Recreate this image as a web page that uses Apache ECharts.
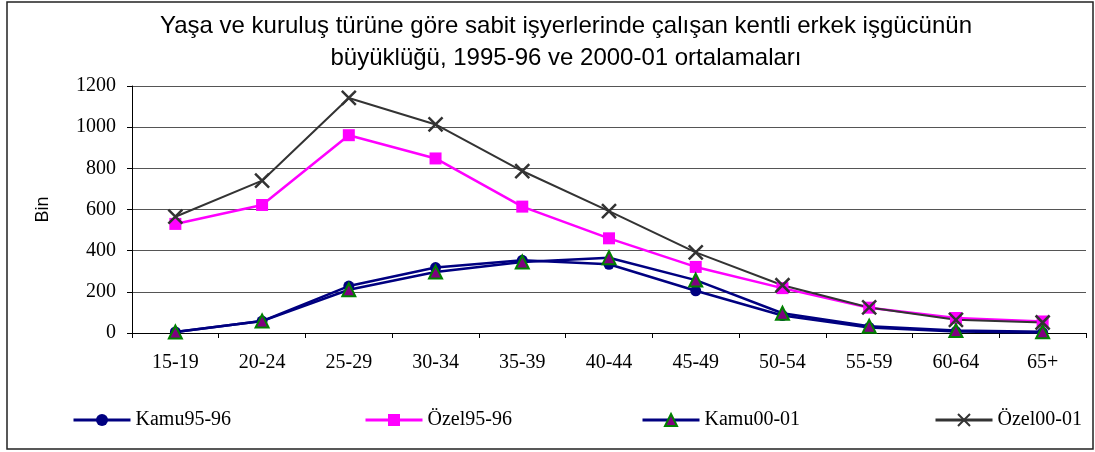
<!DOCTYPE html>
<html>
<head>
    <meta charset="UTF-8">
    <title>Kentli erkek işgücü</title>
    <script src="https://cdn.jsdelivr.net/npm/echarts@6/dist/echarts.min.js"></script>
    <style>
        html, body { margin: 0; padding: 0; background: #fff; }
        #main { width: 1095px; height: 452px; }
    </style>
</head>
<body>
<div id="main"></div>
<script>
    // yaş grupları
    var ages = ['15-19', '20-24', '25-29', '30-34', '35-39', '40-44', '45-49', '50-54', '55-59', '60-64', '65+'];
    // değerler (bin kişi)
    var kamu9596 = [5, 58, 228, 318, 353, 334, 205, 85, 27, 7, 2];
    var ozel9596 = [530, 622, 961, 848, 614, 460, 321, 218, 123, 73, 56];
    var kamu0001 = [5, 58, 210, 296, 345, 366, 257, 96, 33, 12, 6];
    var ozel0001 = [565, 740, 1142, 1013, 787, 592, 392, 232, 124, 64, 51];
    var yTicks = [0, 200, 400, 600, 800, 1000, 1200];

    var serif = '"Liberation Serif", "Times New Roman", serif';
    var sans = '"Liberation Sans", Arial, sans-serif';
    var xMark = 'path://M0,0L10,10M10,0L0,10';

    var myChart = echarts.init(document.getElementById('main'));

    // her lejant öğesi ayrı konumda (Excel düzeni gibi)
    function legendAt(name, left) {
        return {
            data: [name],
            left: left,
            top: 410,
            padding: 0,
            itemWidth: 57,
            itemHeight: 15,
            lineStyle: { width: 3 },
            textStyle: { fontFamily: serif, fontSize: 20, color: '#000' }
        };
    }

    var option = {
        animation: false,
        backgroundColor: '#fff',
        title: {
            text: 'Yaşa ve kuruluş türüne göre sabit işyerlerinde çalışan kentli erkek işgücünün\nbüyüklüğü, 1995-96 ve 2000-01 ortalamaları',
            left: 561,
            top: 5,
            textAlign: 'center',
            textStyle: { fontFamily: sans, fontSize: 24, fontWeight: 'normal', color: '#000', lineHeight: 32 }
        },
        legend: [
            legendAt('Kamu95-96', 72),
            legendAt('Özel95-96', 364),
            legendAt('Kamu00-01', 641),
            legendAt('Özel00-01', 934)
        ],
        grid: { left: 132, right: 9, top: 86, bottom: 119 },
        xAxis: {
            type: 'category',
            data: ages,
            boundaryGap: true,
            axisLine: { lineStyle: { color: '#000', width: 1 } },
            axisTick: { show: true, length: 5, lineStyle: { color: '#000' } },
            axisLabel: { fontFamily: serif, fontSize: 20, color: '#000', margin: 20 }
        },
        yAxis: {
            type: 'value',
            min: yTicks[0],
            max: yTicks[yTicks.length - 1],
            interval: 200,
            name: 'Bin',
            nameLocation: 'middle',
            nameGap: 80,
            nameRotate: 90,
            nameTextStyle: { fontFamily: sans, fontSize: 18, color: '#000' },
            axisLine: { show: true, lineStyle: { color: '#000', width: 1 } },
            axisTick: { show: true, length: 5, lineStyle: { color: '#000' } },
            axisLabel: {
                fontFamily: serif, fontSize: 20, color: '#000', margin: 16,
                formatter: function (v) { return String(v); }
            },
            splitLine: { lineStyle: { color: '#555', width: 1 } }
        },
        series: [{
            name: 'Kamu95-96',
            type: 'line',
            data: kamu9596,
            symbol: 'circle',
            symbolSize: 11,
            lineStyle: { color: '#000080', width: 2.5 },
            itemStyle: { color: '#000080' }
        }, {
            name: 'Özel95-96',
            type: 'line',
            data: ozel9596,
            symbol: 'rect',
            symbolSize: 12,
            lineStyle: { color: '#ff00ff', width: 2.5 },
            itemStyle: { color: '#ff00ff' }
        }, {
            name: 'Kamu00-01',
            type: 'line',
            data: kamu0001,
            symbol: 'triangle',
            symbolSize: 13,
            lineStyle: { color: '#000080', width: 2.5 },
            itemStyle: { color: '#800080', borderColor: '#008000', borderWidth: 2 }
        }, {
            name: 'Özel00-01',
            type: 'line',
            data: ozel0001,
            symbol: xMark,
            symbolSize: 14,
            lineStyle: { color: '#333333', width: 2 },
            itemStyle: { color: 'rgba(0,0,0,0)', borderColor: '#333333', borderWidth: 2.5 }
        }],
        graphic: [{
            type: 'rect',
            shape: { x: 7, y: 2, width: 1086, height: 447 },
            style: { fill: null, stroke: '#222', lineWidth: 1.5 },
            silent: true,
            z: -1
        }]
    };

    myChart.setOption(option);
</script>
</body>
</html>
